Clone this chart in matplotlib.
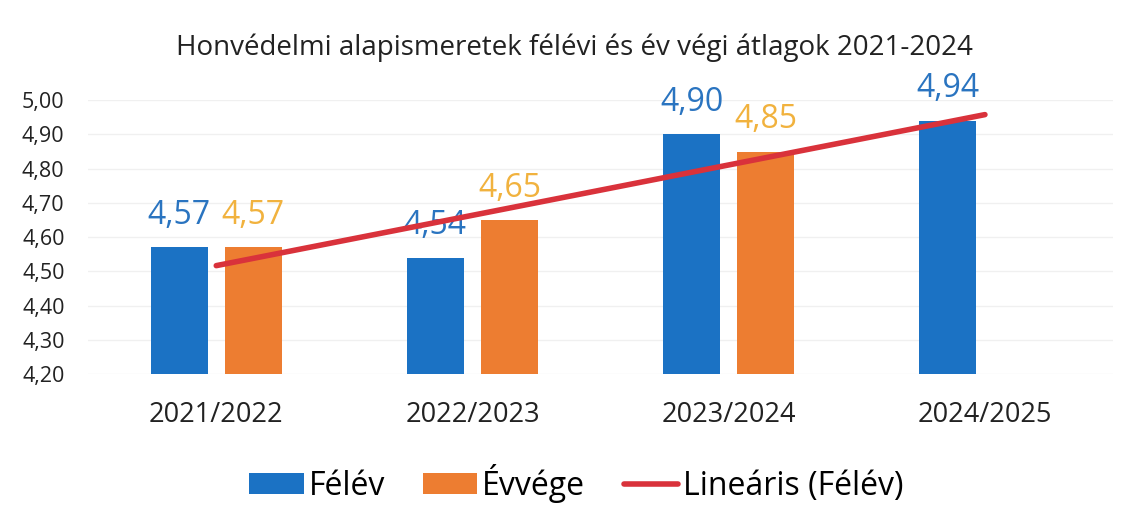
import matplotlib.pyplot as plt
import numpy as np

plt.rcParams['font.family'] = ['Open Sans', 'DejaVu Sans']

# data
years = ['2021/2022', '2022/2023', '2023/2024', '2024/2025']
felev = [4.57, 4.54, 4.90, 4.94]
evvege = [4.57, 4.65, 4.85, None]   # no year-end value for 2024/2025 yet
yticks = [4.20, 4.30, 4.40, 4.50, 4.60, 4.70, 4.80, 4.90, 5.00]

blue = '#1b72c4'
orange = '#ed7d31'
red = '#d9323b'


def hu(v):
    return f'{v:.2f}'.replace('.', ',')


fig = plt.figure(figsize=(11.3, 5.14), dpi=100)
ax = fig.add_axes([0.078, 0.272, 0.907, 0.533])

x = np.arange(len(years))
off = 0.145
w = 0.223

b1 = ax.bar(x - off, felev, w, color=blue, label='Félév', zorder=2)
xe = [xi + off for xi, v in zip(x, evvege) if v is not None]
ve = [v for v in evvege if v is not None]
b2 = ax.bar(xe, ve, w, color=orange, label='Évvége', zorder=2)

# linear trendline of the Félév series (as Excel draws it)
k, b = np.polyfit(x, felev, 1)
ax.plot(x, k * x + b, color=red, lw=4, solid_capstyle='round',
        label='Lineáris (Félév)', zorder=4)

for bar, v in zip(b1, felev):
    ax.annotate(hu(v), (bar.get_x() + bar.get_width() / 2, v),
                xytext=(0, 11), textcoords='offset points',
                ha='center', va='bottom', fontsize=23, color='#2a74c0', zorder=3)
for bar, v in zip(b2, ve):
    ax.annotate(hu(v), (bar.get_x() + bar.get_width() / 2, v),
                xytext=(0, 11), textcoords='offset points',
                ha='center', va='bottom', fontsize=23, color='#f1b23e', zorder=3)

ax.set_ylim(4.2, 5.0)
ax.set_xlim(-0.5, len(years) - 0.5)
ax.set_yticks(yticks)
ax.set_yticklabels([hu(t) for t in yticks], fontsize=15.5, color='#222222')
ax.set_xticks(x)
ax.set_xticklabels(years, fontsize=19.5, color='#222222')
ax.tick_params(axis='both', length=0)
ax.tick_params(axis='x', pad=19)
ax.tick_params(axis='y', pad=17)
for s in ax.spines.values():
    s.set_visible(False)
ax.grid(axis='y', color='#f0f0f0', lw=1, zorder=0)
ax.set_axisbelow(True)

fig.text(0.508, 0.907, 'Honvédelmi alapismeretek félévi és év végi átlagok 2021-2024',
         ha='center', va='center', fontsize=20, color='#222222')

fig.legend(handles=[b1, b2, ax.lines[0]], loc='center', bbox_to_anchor=(0.51, 0.06),
           ncol=3, frameon=False, fontsize=23, handlelength=1.7, handleheight=0.65,
           handletextpad=0.15, columnspacing=1.2)

fig.savefig('out.png', dpi=100)
